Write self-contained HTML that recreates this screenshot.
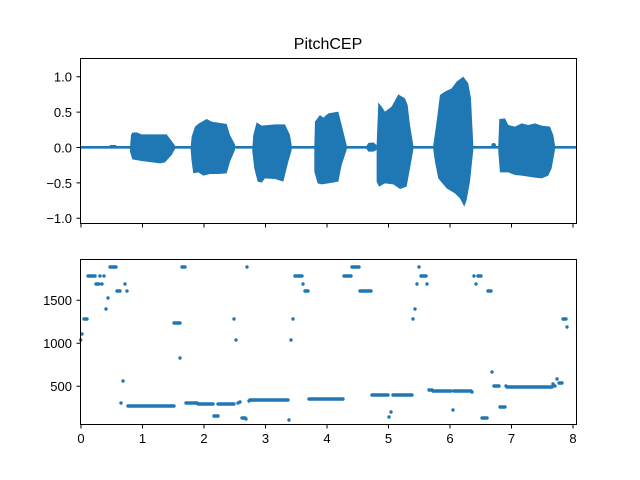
<!DOCTYPE html>
<html><head><meta charset="utf-8"><style>
body{margin:0;background:#fff;}
svg{display:block;font-family:"Liberation Sans","DejaVu Sans",sans-serif;}
</style></head><body>
<svg width="640" height="480" viewBox="0 0 640 480" xmlns="http://www.w3.org/2000/svg">
<rect width="640" height="480" fill="#fff"/>
<text x="328" y="49" font-size="16" text-anchor="middle">PitchCEP</text>
<!-- top waveform -->
<g transform="translate(75,55) scale(0.3333)" fill="#1f77b4">
<rect x="18" y="273" width="1485" height="8"/>
<polygon points="165,278 168,240 172,233 185,232 200,238 275,238 290,258 300,272 300,282 290,300 270,322 255,325 200,318 172,313 165,290"/>
<polygon points="347,278 350,245 360,215 372,205 395,192 410,200 455,207 465,240 480,268 480,285 465,320 455,355 430,357 405,357 385,362 370,352 355,355 350,320 347,285"/>
<polygon points="532,278 535,240 545,202 560,212 600,208 630,208 645,240 650,270 650,285 640,320 625,380 600,372 570,370 560,383 548,380 538,340 532,290"/>
<polygon points="718,275 720,200 735,180 745,188 760,175 790,170 800,210 815,270 815,285 800,330 790,380 760,385 740,388 728,385 718,350"/>
<polygon points="872,277 880,264 895,262 905,270 905,285 895,290 880,290"/>
<polygon points="905,270 910,142 920,155 930,170 950,155 970,118 990,130 998,150 1005,210 1015,270 1015,285 1005,340 995,395 975,402 955,388 930,385 912,395 905,380"/>
<polygon points="1075,270 1085,200 1095,120 1110,110 1130,100 1145,80 1165,65 1180,85 1188,130 1195,270 1195,285 1185,380 1175,435 1168,455 1155,430 1140,415 1115,400 1090,370 1080,320 1075,285"/>
<circle cx="1256" cy="271" r="7"/>
<polygon points="1270,270 1273,192 1290,190 1300,210 1320,215 1340,205 1360,210 1380,205 1400,212 1425,215 1435,240 1440,270 1440,285 1430,340 1420,362 1400,370 1380,368 1340,362 1320,360 1300,352 1275,352 1270,290"/>
<rect x="104" y="270" width="20" height="5"/>
</g>
<!-- bottom scatter -->
<g stroke="#1f77b4" stroke-width="3.4" stroke-linecap="round" fill="none">
<path d="M80.7,340h0 M82,334h0 M84,319H87 M88,276H95 M96,284H99 M100,276h0 M102,284h0 M104,276h0 M106,309h0 M108,298h0 M110,267H116 M117,291H120 M121,403h0 M123,381h0 M125,284h0 M127,291h0 M128,406H174 M174,323H180 M180,358h0 M182,267H185 M186,403H197 M198,404H213 M214,416H218 M218,404H234 M234,319h0 M236,340h0 M238,403h0 M240,402h0 M242,418H245 M246,419h0 M247,267h0 M249,401h0 M250,400H288 M289,420h0 M291,340h0 M293,319h0 M295,276H302 M303,284h0 M305,291H308 M309,399H343 M344,276H351 M352,267H359 M360,291H371 M372,395H388 M389,417h0 M391,412h0 M393,395H412 M413,319h0 M415,309h0 M417,284h0 M419,267h0 M421,276H426 M427,284h0 M429,390H432 M433,391H451 M453,410h0 M454,391H471 M472,392h0 M474,276h0 M476,284h0 M478,276H481 M482,418H487 M488,291H491 M492,372h0 M494,386H499 M500,407H505 M506,386h0 M507,387H552 M553,384h0 M555,386h0 M557,379h0 M559,383H562 M563,319H566 M567,327h0"/>
</g>
<!-- axes frames -->
<rect x="80.5" y="58.5" width="496" height="165" fill="none" stroke="#000" stroke-width="1"/>
<rect x="80.5" y="259.5" width="496" height="165" fill="none" stroke="#000" stroke-width="1"/>
<g stroke="#000" stroke-width="1">
<path d="M80.5,76.7h-4 M80.5,112.1h-4 M80.5,147.5h-4 M80.5,182.9h-4 M80.5,218.3h-4"/>
<path d="M80.5,300.3h-4 M80.5,343.3h-4 M80.5,386.3h-4"/>
<path d="M81,223.5v4 M142.5,223.5v4 M204,223.5v4 M265.5,223.5v4 M327,223.5v4 M388.5,223.5v4 M450,223.5v4 M511.5,223.5v4 M573,223.5v4"/>
<path d="M81,424.5v4 M142.5,424.5v4 M204,424.5v4 M265.5,424.5v4 M327,424.5v4 M388.5,424.5v4 M450,424.5v4 M511.5,424.5v4 M573,424.5v4"/>
</g>
<g font-size="13" text-anchor="end">
<text x="72" y="81.5">1.0</text>
<text x="72" y="117">0.5</text>
<text x="72" y="152.5">0.0</text>
<text x="72" y="188">−0.5</text>
<text x="72" y="223">−1.0</text>
<text x="72" y="305">1500</text>
<text x="72" y="348">1000</text>
<text x="72" y="391">500</text>
</g>
<g font-size="13" text-anchor="middle">
<text x="81" y="443">0</text><text x="142.5" y="443">1</text><text x="204" y="443">2</text>
<text x="265.5" y="443">3</text><text x="327" y="443">4</text><text x="388.5" y="443">5</text>
<text x="450" y="443">6</text><text x="511.5" y="443">7</text><text x="573" y="443">8</text>
</g>
</svg>
</body></html>
